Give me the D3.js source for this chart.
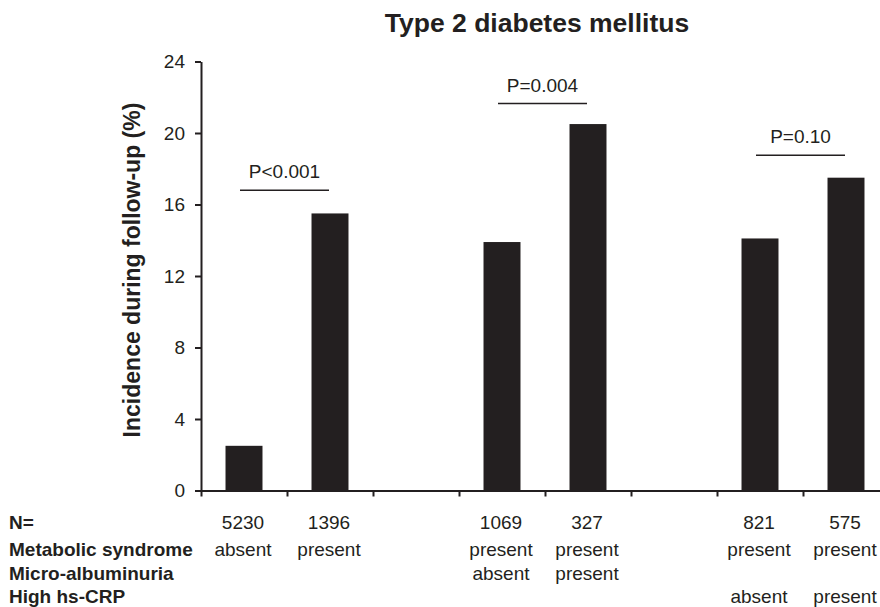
<!DOCTYPE html>
<html><head><meta charset="utf-8">
<script src="https://cdn.jsdelivr.net/npm/d3@7"></script>
<style>body{margin:0;background:#fff}text{font-family:"Liberation Sans",Arial,sans-serif;fill:#231f20}</style>
</head><body><svg id="c" width="880" height="607"></svg>
<script>
const slots = ["s1","s2","g1","s3","s4","g2","s5","s6"];
const values = [2.5, 15.5, null, 13.9, 20.5, null, 14.1, 17.5];
const nLabels = ["5230","1396","","1069","327","","821","575"];
const metSyn = ["absent","present","","present","present","","present","present"];
const microAlb = ["","","","absent","present","","",""];
const hsCRP = ["","","","","","","absent","present"];
const rowTitles = ["N=","Metabolic syndrome","Micro-albuminuria","High hs-CRP"];
const yTicks = [0,4,8,12,16,20,24];
const pTests = [{from:"s1",to:"s2",level:16.8,label:"P<0.001"},
                {from:"s3",to:"s4",level:21.65,label:"P=0.004"},
                {from:"s5",to:"s6",level:18.75,label:"P=0.10"}];
const ink = "#231f20";

const svg = d3.select("#c");
const x = d3.scaleBand().domain(slots).range([201, 889]).padding(0);
const xb = d3.scaleLinear().domain([0, slots.length]).range([201, 889]);
const y = d3.scaleLinear().domain([0, 24]).range([490.5, 61.5]);
const barW = x.bandwidth() * 0.43;

// bars
svg.append("g").selectAll("rect").data(slots.map((s,i)=>({s,v:values[i]})).filter(d=>d.v!=null))
  .join("rect")
  .attr("x", d => x(d.s) + x.bandwidth()/2 - barW/2)
  .attr("width", barW)
  .attr("y", d => y(d.v))
  .attr("height", d => y(0) - y(d.v))
  .attr("fill", ink);

// y axis
const ya = svg.append("g").attr("transform","translate(201,0)")
  .call(d3.axisLeft(y).tickValues(yTicks).tickSize(6).tickSizeOuter(0).tickPadding(10));
ya.select(".domain").attr("stroke", ink).attr("stroke-width", 2);
ya.selectAll(".tick line").attr("stroke", ink).attr("stroke-width", 2);
ya.selectAll(".tick text").attr("font-size", 19).attr("fill", ink)
  .style("font-family", '"Liberation Sans", Arial, sans-serif');

// x axis
const xa = svg.append("g").attr("transform","translate(0,490.5)")
  .call(d3.axisBottom(xb).ticks(slots.length).tickFormat("").tickSize(6).tickSizeOuter(0));
xa.select(".domain").attr("stroke", ink).attr("stroke-width", 2);
xa.selectAll(".tick line").attr("stroke", ink).attr("stroke-width", 2);

// p-value brackets
const pg = svg.append("g");
pTests.forEach(p => {
  const x1 = x(p.from) + x.bandwidth()/2 - 4, x2 = x(p.to) + x.bandwidth()/2 - 1;
  pg.append("line").attr("x1", x1).attr("x2", x2).attr("y1", y(p.level)).attr("y2", y(p.level))
    .attr("stroke", ink).attr("stroke-width", 1.5);
  pg.append("text").attr("x", (x1+x2)/2).attr("y", y(p.level) - 12).attr("text-anchor","middle")
    .attr("font-size", 19).text(p.label);
});

// title
svg.append("text").attr("x", 537).attr("y", 32).attr("text-anchor","middle")
  .attr("font-size", 26.5).attr("font-weight","bold").text("Type 2 diabetes mellitus");

// y label
svg.append("text").attr("transform","translate(140,270) rotate(-90)").attr("text-anchor","middle")
  .attr("font-size", 23).attr("font-weight","bold").text("Incidence during follow-up (%)");

// row table
const rowsY = [529, 556, 580, 603];
const rows = [nLabels, metSyn, microAlb, hsCRP];
rowTitles.forEach((t,i) => {
  svg.append("text").attr("x", 9).attr("y", rowsY[i]).attr("font-size", 19)
    .attr("font-weight","bold").text(t);
});
rows.forEach((r,i) => {
  svg.append("g").selectAll("text").data(slots.map((s,j)=>({s,t:r[j]})).filter(d=>d.t))
    .join("text").attr("x", d => x(d.s) + x.bandwidth()/2 - 1).attr("y", rowsY[i])
    .attr("text-anchor","middle").attr("font-size", 19).text(d => d.t);
});
</script></body></html>
